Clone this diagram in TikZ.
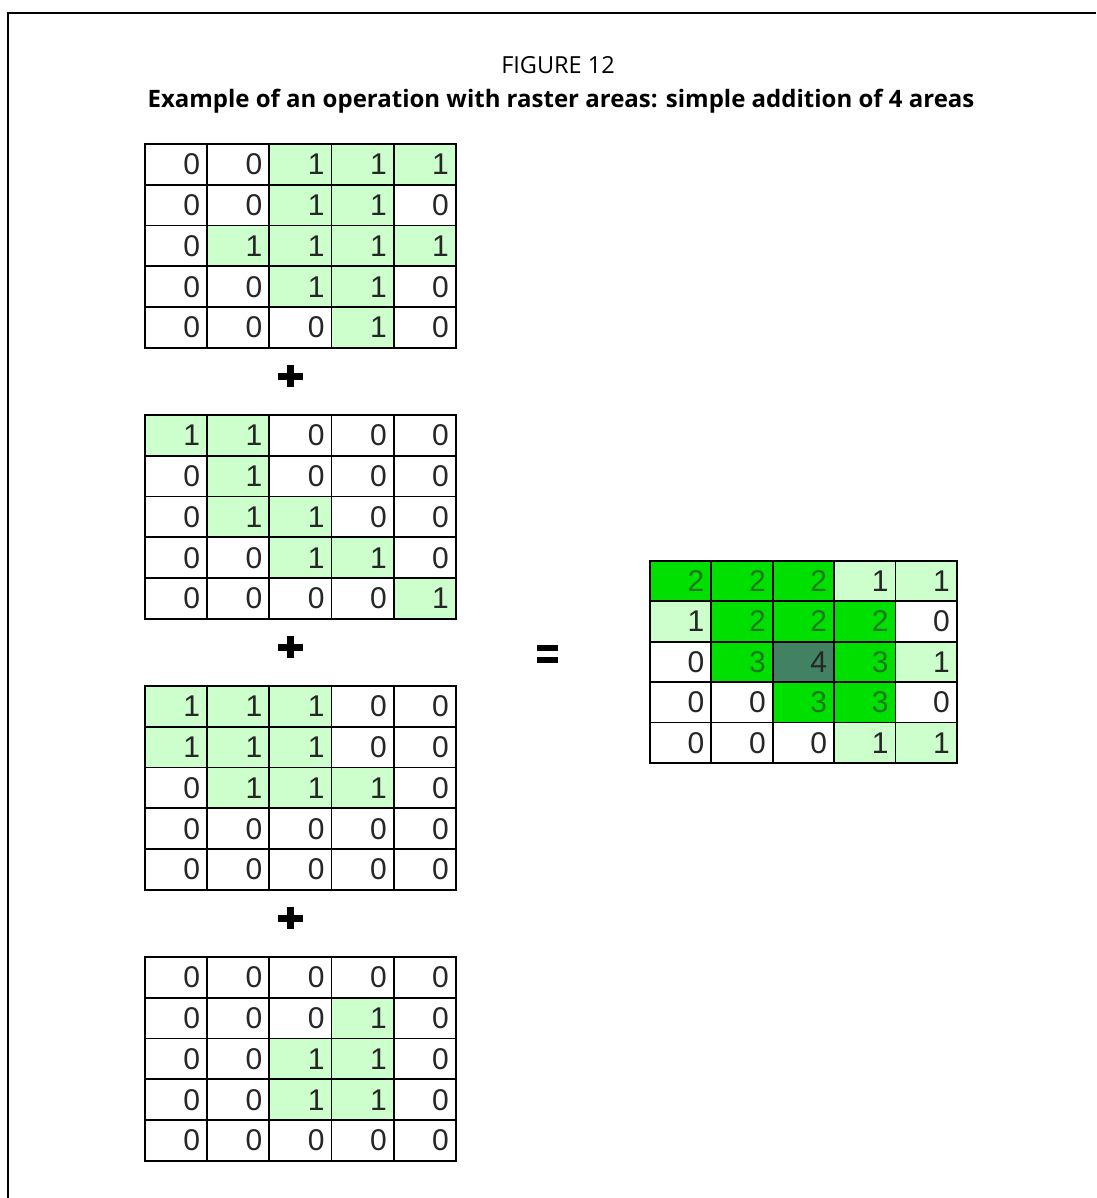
\documentclass[tikz,border=0pt]{standalone}
\usepackage{fontspec}
\setmainfont{Open Sans}
\newfontfamily\digitfont{Liberation Sans}
\definecolor{lightgreen}{RGB}{204,255,204}
\definecolor{brightgreen}{RGB}{0,224,0}
\definecolor{darkgreen}{RGB}{66,130,98}
\definecolor{greentext}{RGB}{30,120,30}
\begin{document}
\begin{tikzpicture}[x=1pt,y=-1pt,
  cell/.style={draw=black, line width=1.8pt, inner xsep=7pt, inner ysep=0pt,
    align=right, font=\digitfont\fontsize{30}{30}\selectfont, text=black!85, anchor=north west},
  big/.style={minimum width=62.2pt, minimum height=40.8pt, text width=48.2pt},
  small/.style={minimum width=61.4pt, minimum height=40.4pt, text width=47.4pt},
  v0/.style={fill=white},
  v1/.style={fill=lightgreen},
  v2/.style={fill=brightgreen, text=greentext},
  v3/.style={fill=brightgreen, text=greentext},
  v4/.style={fill=darkgreen, text=black!85},
  sign/.style={fill=black}]
\useasboundingbox (0,0) rectangle (1096,1198);
\fill[white] (0,0) rectangle (1096,1198);
\draw[line width=2.5pt] (8,1198) -- (8,13) -- (1096,13);
\node[anchor=base, font=\fontsize{23.5}{23.5}\selectfont] (fig) at (558,74) {FIGURE 12};
\node[anchor=base, font=\bfseries\fontsize{24}{24}\selectfont] (sub) at (561,108) {Example of an operation with raster areas: simple addition of 4 areas};
% grid 1
\foreach \row [count=\r] in {{0,0,1,1,1},{0,0,1,1,0},{0,1,1,1,1},{0,0,1,1,0},{0,0,0,1,0}}
  \foreach \v [count=\c] in \row
    \node[cell, big, v\v] (a-\r-\c) at ({144+(\c-1)*62.2},{143+(\r-1)*40.8}) {\v};
% grid 2
\foreach \row [count=\r] in {{1,1,0,0,0},{0,1,0,0,0},{0,1,1,0,0},{0,0,1,1,0},{0,0,0,0,1}}
  \foreach \v [count=\c] in \row
    \node[cell, big, v\v] (b-\r-\c) at ({144+(\c-1)*62.2},{414+(\r-1)*40.8}) {\v};
% grid 3
\foreach \row [count=\r] in {{1,1,1,0,0},{1,1,1,0,0},{0,1,1,1,0},{0,0,0,0,0},{0,0,0,0,0}}
  \foreach \v [count=\c] in \row
    \node[cell, big, v\v] (c-\r-\c) at ({144+(\c-1)*62.2},{685+(\r-1)*40.8}) {\v};
% grid 4
\foreach \row [count=\r] in {{0,0,0,0,0},{0,0,0,1,0},{0,0,1,1,0},{0,0,1,1,0},{0,0,0,0,0}}
  \foreach \v [count=\c] in \row
    \node[cell, big, v\v] (d-\r-\c) at ({144+(\c-1)*62.2},{956+(\r-1)*40.8}) {\v};
% result
\foreach \row [count=\r] in {{2,2,2,1,1},{1,2,2,2,0},{0,3,4,3,1},{0,0,3,3,0},{0,0,0,1,1}}
  \foreach \v [count=\c] in \row
    \node[cell, small, v\v] (s-\r-\c) at ({649+(\c-1)*61.4},{560+(\r-1)*40.4}) {\v};
% plus signs
\foreach \y [count=\i] in {376,647,918} {
  \coordinate (plus\i) at (290,\y);
  \fill[sign] ([xshift=-12.5pt,yshift=-3.5pt]plus\i) rectangle ([xshift=12.5pt,yshift=3.5pt]plus\i);
  \fill[sign] ([xshift=-3.5pt,yshift=-11pt]plus\i) rectangle ([xshift=3.5pt,yshift=11pt]plus\i);
}
% equals sign
\coordinate (eq) at (547.5,654);
\fill[sign] ([xshift=-10.5pt,yshift=3pt]eq) rectangle ([xshift=10.5pt,yshift=9pt]eq);
\fill[sign] ([xshift=-10.5pt,yshift=-3pt]eq) rectangle ([xshift=10.5pt,yshift=-9pt]eq);
\end{tikzpicture}
\end{document}
